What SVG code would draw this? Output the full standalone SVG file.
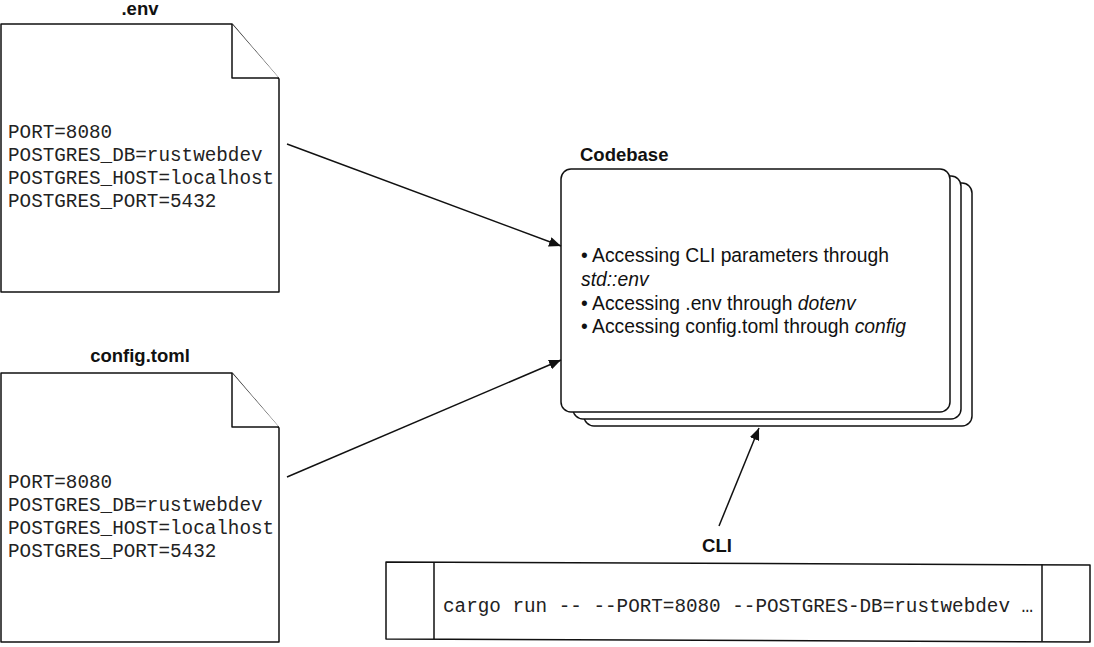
<svg xmlns="http://www.w3.org/2000/svg" width="1094" height="647" viewBox="0 0 1094 647">
<style>
.shape{fill:#fff;stroke:#111;stroke-width:1.5;stroke-linejoin:round}
.label{font-family:"Liberation Sans",Arial,sans-serif;font-weight:bold;font-size:18.5px;fill:#111}
.mono{font-family:"Liberation Mono","Courier New",monospace;font-size:19.3px;fill:#222}
.cli{font-family:"Liberation Mono","Courier New",monospace;font-size:19.3px;fill:#222}
.body{font-family:"Liberation Sans",Arial,sans-serif;font-size:19.3px;fill:#111}
.conn{stroke:#111;stroke-width:1.5;fill:none}
</style>
<defs>
<marker id="arrow" viewBox="0 0 12 10" refX="12" refY="5" markerWidth="12" markerHeight="10" markerUnits="userSpaceOnUse" orient="auto">
<path d="M0,0 L12,5 L0,10 z" fill="#111"/>
</marker>
</defs>
<g id="env">
<text class="label" x="140" y="15" text-anchor="middle">.env</text>
<path class="shape" d="M1,24 H232 L279,79 V292 H1 Z"/>
<path class="shape" d="M232,24 V78 H279" fill="none"/>
<text class="mono" x="8" y="138">PORT=8080</text>
<text class="mono" x="8" y="161">POSTGRES_DB=rustwebdev</text>
<text class="mono" x="8" y="184">POSTGRES_HOST=localhost</text>
<text class="mono" x="8" y="207">POSTGRES_PORT=5432</text>
</g>
<g id="config">
<text class="label" x="140" y="362" text-anchor="middle">config.toml</text>
<path class="shape" d="M1,373 H232 L279,428 V642 H1 Z"/>
<path class="shape" d="M232,373 V427 H279" fill="none"/>
<text class="mono" x="8" y="488">PORT=8080</text>
<text class="mono" x="8" y="511">POSTGRES_DB=rustwebdev</text>
<text class="mono" x="8" y="534">POSTGRES_HOST=localhost</text>
<text class="mono" x="8" y="557">POSTGRES_PORT=5432</text>
</g>
<g id="codebase">
<text class="label" x="580" y="161">Codebase</text>
<rect class="shape" x="584" y="183" width="388" height="243" rx="10"/>
<rect class="shape" x="573" y="176" width="388" height="243" rx="10"/>
<rect class="shape" x="561" y="169" width="389" height="243" rx="10"/>
<text class="body" x="581" y="262">• Accessing CLI parameters through</text>
<text class="body" x="581" y="286" font-style="italic">std::env</text>
<text class="body" x="581" y="310">• Accessing .env through <tspan font-style="italic">dotenv</tspan></text>
<text class="body" x="581" y="333">• Accessing config.toml through <tspan font-style="italic">config</tspan></text>
</g>
<g id="cli">
<text class="label" x="717" y="552" text-anchor="middle">CLI</text>
<path class="shape" d="M386,562 L1090,565 L1090,642 L386,639 Z"/>
<path class="shape" d="M434,562 V639 M1042,564.5 V641.5" fill="none"/>
<text class="cli" x="443" y="612">cargo run -- --PORT=8080 --POSTGRES-DB=rustwebdev …</text>
</g>
<g id="connectors">
<path class="conn" d="M287,144 L561,246" marker-end="url(#arrow)"/>
<path class="conn" d="M287,477 L561,360" marker-end="url(#arrow)"/>
<path class="conn" d="M719,526 L759,428" marker-end="url(#arrow)"/>
</g>
</svg>
